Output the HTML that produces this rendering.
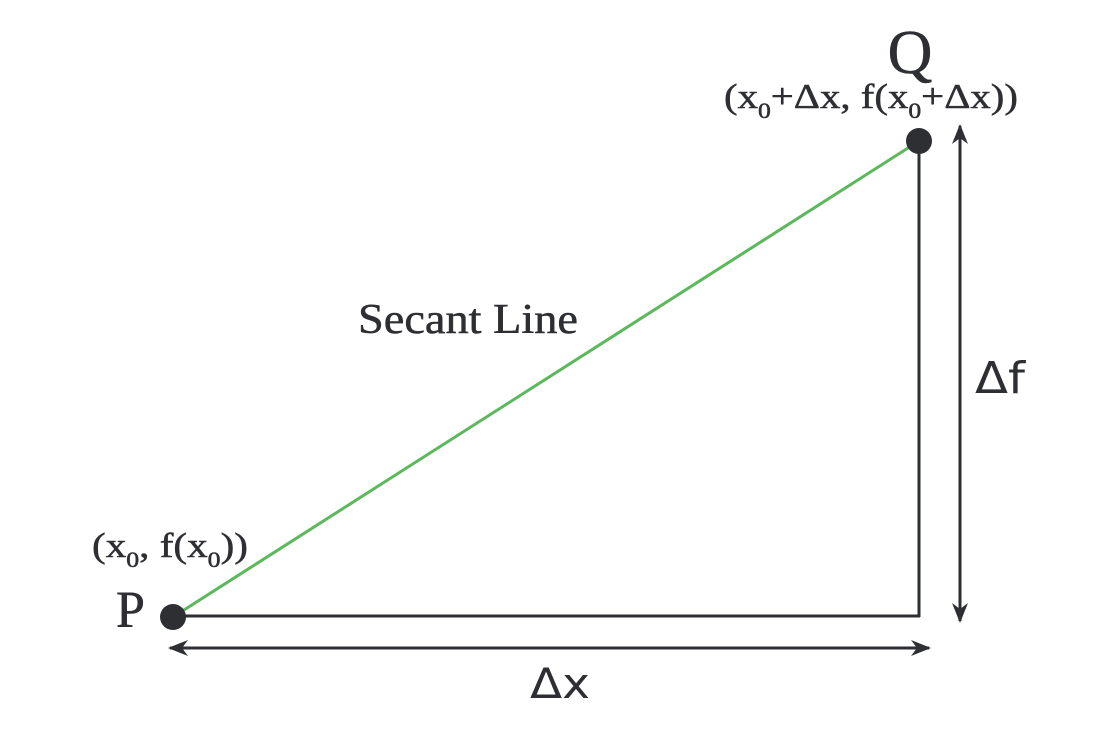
<!DOCTYPE html>
<html><head><meta charset="utf-8"><style>
html,body{margin:0;padding:0;background:#fff;}
svg{display:block;}
.s{font-family:"Liberation Serif",serif;fill:#2e2f33;stroke:#2e2f33;stroke-width:0.5;}
.a{font-family:"DejaVu Sans","Liberation Sans",sans-serif;fill:#2e2f33;}
</style></head><body>
<svg width="1114" height="736" viewBox="0 0 1114 736">
<defs>
<marker id="ah" viewBox="0 0 20 16" refX="18" refY="8" markerWidth="20" markerHeight="16" markerUnits="userSpaceOnUse" orient="auto-start-reverse">
<path d="M0,0 L20,8 L0,16 L6,8 Z" fill="#2e2f33"/></marker>
</defs>
<line x1="173" y1="617" x2="919" y2="141" stroke="#5cb85c" stroke-width="3"/>
<line x1="173" y1="616" x2="920" y2="616" stroke="#2e2f33" stroke-width="3"/>
<line x1="919" y1="141" x2="919" y2="617" stroke="#2e2f33" stroke-width="3"/>
<line x1="170" y1="648" x2="929" y2="648" stroke="#2e2f33" stroke-width="3" marker-start="url(#ah)" marker-end="url(#ah)"/>
<line x1="960" y1="126" x2="960" y2="621" stroke="#2e2f33" stroke-width="3" marker-start="url(#ah)" marker-end="url(#ah)"/>
<circle cx="173" cy="617" r="13" fill="#2e2f33"/>
<circle cx="919" cy="141" r="13" fill="#2e2f33"/>
<text class="s" x="910" y="73" font-size="62" text-anchor="middle">Q</text>
<text class="s" x="724" y="108" font-size="35" textLength="294" lengthAdjust="spacingAndGlyphs">(x<tspan font-size="22" dy="10">0</tspan><tspan dy="-10">+Δx, f(x</tspan><tspan font-size="22" dy="10">0</tspan><tspan dy="-10">+Δx))</tspan></text>
<text class="s" x="116" y="627" font-size="52">P</text>
<text class="s" x="92" y="557" font-size="35" textLength="156" lengthAdjust="spacingAndGlyphs">(x<tspan font-size="22" dy="10">0</tspan><tspan dy="-10">, f(x</tspan><tspan font-size="22" dy="10">0</tspan><tspan dy="-10">))</tspan></text>
<text class="s" x="358" y="333" font-size="42" textLength="220" lengthAdjust="spacingAndGlyphs">Secant Line</text>
<text class="a" x="975" y="393" font-size="44" textLength="50" lengthAdjust="spacingAndGlyphs">Δf</text>
<text class="a" x="530" y="698" font-size="42" textLength="60" lengthAdjust="spacingAndGlyphs">Δx</text>
</svg>
</body></html>
